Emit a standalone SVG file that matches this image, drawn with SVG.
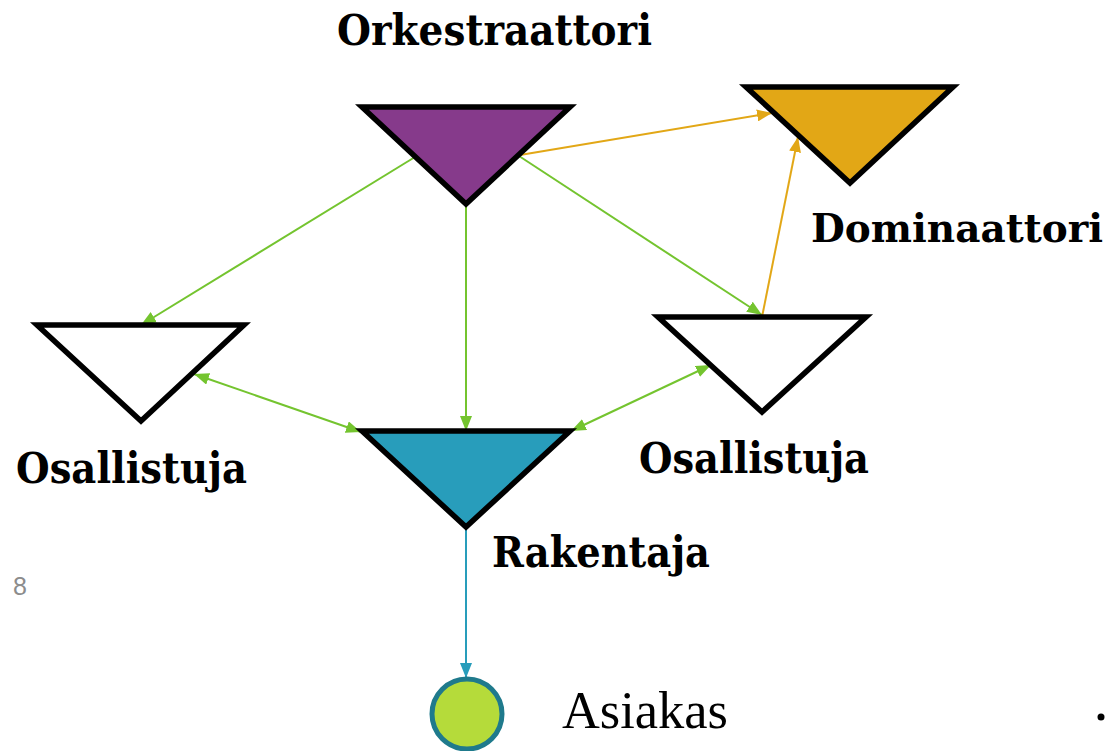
<svg xmlns="http://www.w3.org/2000/svg" width="1114" height="751" viewBox="0 0 1114 751">
<style>
.tri{stroke:#000;stroke-width:5.5;stroke-linejoin:miter}
.lbl{font-family:"DejaVu Serif","Liberation Serif",serif;font-weight:bold;font-size:42px;fill:#000}
.g{stroke:#74C42F;stroke-width:2;fill:none}
.o{stroke:#E2A716;stroke-width:2;fill:none}
.b{stroke:#289DBB;stroke-width:2;fill:none}
</style>
<defs>
<marker id="ag" markerUnits="userSpaceOnUse" markerWidth="15" markerHeight="12" refX="15" refY="6" orient="auto-start-reverse"><path d="M0,0 L15,6 L0,12 z" fill="#74C42F"/></marker>
<marker id="ao" markerUnits="userSpaceOnUse" markerWidth="15" markerHeight="12" refX="15" refY="6" orient="auto-start-reverse"><path d="M0,0 L15,6 L0,12 z" fill="#E2A716"/></marker>
<marker id="ab" markerUnits="userSpaceOnUse" markerWidth="15" markerHeight="12" refX="15" refY="6" orient="auto-start-reverse"><path d="M0,0 L15,6 L0,12 z" fill="#289DBB"/></marker>
</defs>
<rect width="1114" height="751" fill="#fff"/>
<g id="connectors">
<line class="g" x1="415" y1="157" x2="141" y2="325" marker-end="url(#ag)"/>
<line class="g" x1="466" y1="204" x2="466" y2="431" marker-end="url(#ag)"/>
<line class="g" x1="519" y1="156" x2="762" y2="315" marker-end="url(#ag)"/>
<line class="o" x1="520" y1="155" x2="772" y2="113" marker-end="url(#ao)"/>
<line class="o" x1="762" y1="317" x2="798" y2="137" marker-end="url(#ao)"/>
<line class="g" x1="194" y1="374" x2="361" y2="432" marker-start="url(#ag)" marker-end="url(#ag)"/>
<line class="g" x1="711" y1="365" x2="571" y2="431" marker-start="url(#ag)" marker-end="url(#ag)"/>
<line class="b" x1="466" y1="527" x2="466" y2="678" marker-end="url(#ab)"/>
</g>
<g id="orkestraattori">
<polygon class="tri" points="362,107 570,107 466,204" fill="#863A8B"/>
<text class="lbl" x="337" y="45" textLength="315" lengthAdjust="spacingAndGlyphs">Orkestraattori</text>
</g>
<g id="dominaattori">
<polygon class="tri" points="746,87 953,87 850,183" fill="#E2A716"/>
<text class="lbl" x="811" y="242" font-size="39" style="font-size:39px" textLength="292" lengthAdjust="spacingAndGlyphs">Dominaattori</text>
</g>
<g id="osallistuja-left">
<polygon class="tri" points="37,325 244,325 141,421" fill="#fff"/>
<text class="lbl" x="16" y="483" textLength="231" lengthAdjust="spacingAndGlyphs">Osallistuja</text>
</g>
<g id="osallistuja-right">
<polygon class="tri" points="658,317 866,317 762,412" fill="#fff"/>
<text class="lbl" x="639" y="473" textLength="230" lengthAdjust="spacingAndGlyphs">Osallistuja</text>
</g>
<g id="rakentaja">
<polygon class="tri" points="362,431 570,431 466,527" fill="#289DBB"/>
<text class="lbl" x="492" y="567" textLength="218" lengthAdjust="spacingAndGlyphs">Rakentaja</text>
</g>
<g id="asiakas">
<circle cx="467" cy="714" r="35" fill="#B5DB3A" stroke="#1F7A8C" stroke-width="5"/>
<text x="562" y="728" font-family="Liberation Serif,serif" font-size="52" fill="#000" textLength="166" lengthAdjust="spacingAndGlyphs">Asiakas</text>
</g>
<text x="13" y="595" font-family="Liberation Sans,sans-serif" font-size="25" fill="#8c8c8c">8</text>
<circle cx="1101" cy="717" r="3.5" fill="#000"/>
</svg>
